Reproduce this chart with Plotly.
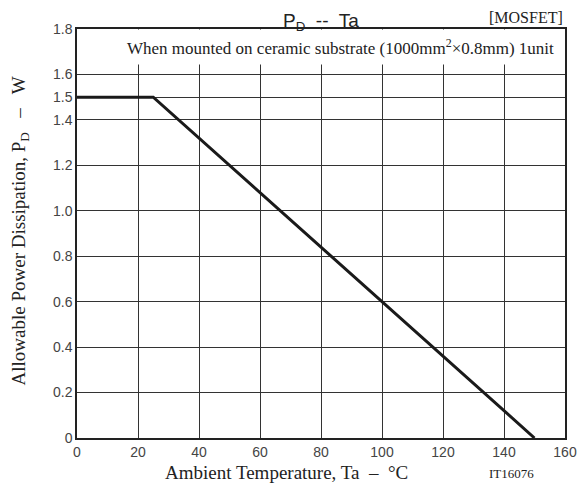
import plotly.graph_objects as go

# derating curve: ambient temperature (C) vs allowable power dissipation (W)
temp_c = [0, 25, 150]
power_w = [1.5, 1.5, 0]

x_ticks = [0, 20, 40, 60, 80, 100, 120, 140, 160]
y_ticks = [0, 0.2, 0.4, 0.6, 0.8, 1.0, 1.2, 1.4, 1.5, 1.6, 1.8]
y_labels = ['0', '0.2', '0.4', '0.6', '0.8', '1.0', '1.2', '1.4', '1.5', '1.6', '1.8']

SERIF = 'Liberation Serif'
SANS = 'Liberation Sans'
INK = '#222222'

fig = go.Figure()
fig.add_trace(go.Scatter(
    x=temp_c, y=power_w, mode='lines',
    line=dict(color='#1a1a1a', width=3),
    showlegend=False, hoverinfo='skip',
))

# the page body adds an 8px margin all round, so the figure is 16px smaller
fig.update_layout(
    width=569, height=475,
    margin=dict(l=69, r=12, t=21, b=45),
    paper_bgcolor='white', plot_bgcolor='white',
    font=dict(family=SANS, color='#444444', size=14),
)

axis_style = dict(
    showgrid=True, gridcolor='#333333', gridwidth=1,
    showline=True, linecolor=INK, linewidth=1.5, mirror=True,
    ticks='', zeroline=False, automargin=False, ticklabeloverflow='allow',
    tickfont=dict(family=SANS, size=14, color='#444444'),
)
fig.update_xaxes(range=[0, 160], tickvals=x_ticks, **axis_style)
fig.update_yaxes(range=[0, 1.8], tickvals=y_ticks, ticktext=y_labels, **axis_style)

# axis titles (annotations so they can sit where the reference has them)
fig.add_annotation(
    x=0.43, y=0, xref='paper', yref='paper', yanchor='top', yshift=-22,
    text='Ambient Temperature, Ta  –  °C', showarrow=False,
    font=dict(family=SERIF, size=19, color=INK),
)
fig.add_annotation(
    x=0, y=0.505, xref='paper', yref='paper', xanchor='center',
    textangle=-90, xshift=-57,
    text='Allowable Power Dissipation, P<sub>D</sub>   –   W', showarrow=False,
    font=dict(family=SERIF, size=19, color=INK),
)

fig.add_annotation(
    x=0.54, y=1.72, xref='paper', yref='y',
    text='When mounted on ceramic substrate (1000mm<sup>2</sup>×0.8mm) 1unit',
    showarrow=False, bgcolor='white', borderpad=6,
    font=dict(family=SERIF, size=17, color=INK),
)
fig.add_annotation(
    x=0.5, y=1.0, xref='paper', yref='paper', yanchor='bottom', yshift=-6,
    text='P<sub>D</sub>  --  Ta', showarrow=False, borderpad=0,
    font=dict(family=SANS, size=19, color=INK),
)
fig.add_annotation(
    x=1.0, y=1.0, xref='paper', yref='paper', xanchor='right', yanchor='bottom', yshift=1,
    text='[MOSFET]', showarrow=False,
    font=dict(family=SERIF, size=16, color=INK),
)
fig.add_annotation(
    x=0.89, y=0, xref='paper', yref='paper', xanchor='center', yanchor='top', yshift=-27,
    text='IT16076', showarrow=False, borderpad=0,
    font=dict(family=SERIF, size=13, color=INK),
)

fig.write_html('out.html')
